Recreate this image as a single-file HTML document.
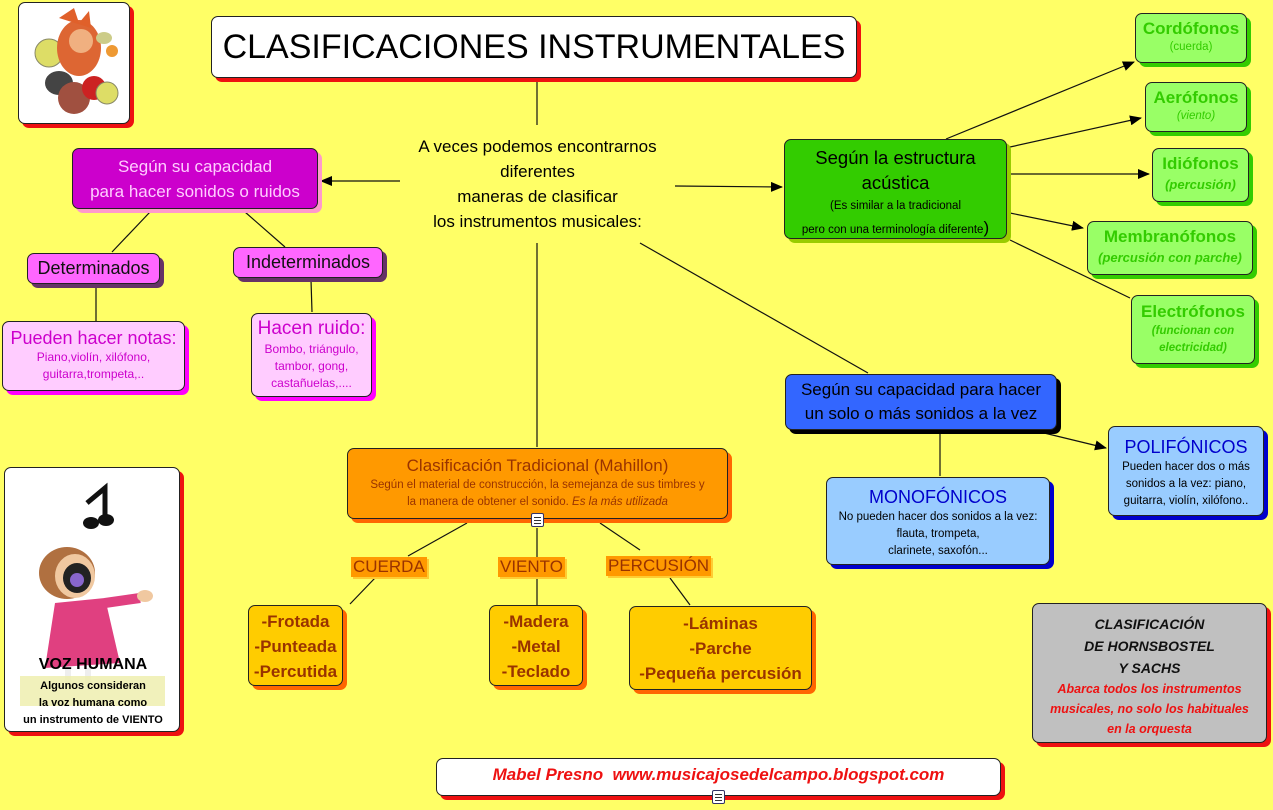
<!DOCTYPE html>
<html><head><meta charset="utf-8">
<style>
html,body{margin:0;padding:0}
body{width:1273px;height:810px;background:#ffff66;position:relative;overflow:hidden;font-family:"Liberation Sans","DejaVu Sans",sans-serif}
.b{position:absolute;box-sizing:border-box;border:1px solid #222;border-radius:7px;text-align:center}
.t{position:absolute;text-align:center;white-space:nowrap}
svg.l{position:absolute;left:0;top:0}
.hl{position:absolute;background:#ff9900;color:#993300;font-size:17px;line-height:20px;padding:0 2px;box-shadow:2px 2px 0 #ffcc33}
.ic{position:absolute;width:13px;height:14px;background:#fff;border:1px solid #336;box-sizing:border-box;border-radius:2px}
.ic:before{content:"";position:absolute;left:2px;top:3px;width:7px;height:1px;background:#333;box-shadow:0 3px 0 #333,0 6px 0 #333}
</style></head><body>

<svg class="l" width="1273" height="810">
<defs><marker id="a" markerWidth="12" markerHeight="10" refX="11" refY="5" orient="auto" markerUnits="userSpaceOnUse"><path d="M0,0 L12,5 L0,10 z" fill="#000"/></marker></defs>
<g stroke="#111" stroke-width="1.2" fill="none">
<line x1="537" y1="80" x2="537" y2="125"/>
<line x1="400" y1="181" x2="321" y2="181" marker-end="url(#a)"/>
<line x1="150" y1="212" x2="112" y2="252"/>
<line x1="245" y1="212" x2="285" y2="247"/>
<line x1="96" y1="286" x2="96" y2="321"/>
<line x1="311" y1="280" x2="312" y2="312"/>
<line x1="675" y1="186" x2="782" y2="187" marker-end="url(#a)"/>
<line x1="946" y1="139" x2="1134" y2="62" marker-end="url(#a)"/>
<line x1="1010" y1="147" x2="1141" y2="118" marker-end="url(#a)"/>
<line x1="1010" y1="174" x2="1149" y2="174" marker-end="url(#a)"/>
<line x1="1010" y1="213" x2="1083" y2="228" marker-end="url(#a)"/>
<line x1="1010" y1="240" x2="1130" y2="298"/>
<line x1="640" y1="243" x2="868" y2="373"/>
<line x1="940" y1="432" x2="940" y2="476"/>
<line x1="1040" y1="432" x2="1106" y2="448" marker-end="url(#a)"/>
<line x1="537" y1="243" x2="537" y2="447"/>
<line x1="467" y1="523" x2="408" y2="556"/>
<line x1="537" y1="528" x2="537" y2="557"/>
<line x1="600" y1="523" x2="640" y2="550"/>
<line x1="375" y1="578" x2="350" y2="604"/>
<line x1="537" y1="578" x2="537" y2="605"/>
<line x1="670" y1="578" x2="690" y2="605"/>
</g>
</svg>

<!-- top-left image -->
<div class="b" style="left:18px;top:2px;width:112px;height:122px;background:#fff;box-shadow:4px 4px 0 #ee1111;overflow:hidden">
<svg width="110" height="120" style="position:absolute;left:0;top:0">
<ellipse cx="30" cy="50" rx="14" ry="14" fill="#dddd66" stroke="#886" />
<ellipse cx="60" cy="45" rx="22" ry="28" fill="#dd6633"/>
<path d="M40 15 L55 5 L60 20 L70 8 L72 25 Z" fill="#e0602a"/>
<ellipse cx="62" cy="38" rx="12" ry="12" fill="#f0b080"/>
<ellipse cx="40" cy="80" rx="14" ry="12" fill="#444"/>
<ellipse cx="55" cy="95" rx="16" ry="16" fill="#a05040"/>
<ellipse cx="75" cy="85" rx="12" ry="12" fill="#cc2222"/>
<ellipse cx="88" cy="90" rx="11" ry="11" fill="#dddd66" stroke="#886"/>
<ellipse cx="85" cy="35" rx="8" ry="6" fill="#cccc88"/>
<ellipse cx="93" cy="48" rx="6" ry="6" fill="#ee9933"/>
</svg>
</div>

<!-- title -->
<div class="b" style="left:211px;top:16px;width:646px;height:62px;background:#fff;box-shadow:4px 4px 0 #ee1111;font-size:34px;line-height:60px;color:#000">CLASIFICACIONES INSTRUMENTALES</div>

<!-- center text -->
<div class="t" style="left:380px;top:134px;width:315px;font-size:17px;line-height:25px;color:#000">A veces podemos encontrarnos<br>diferentes<br>maneras de clasificar<br>los instrumentos musicales:</div>

<!-- magenta -->
<div class="b" style="left:72px;top:148px;width:246px;height:61px;background:#cc00cc;box-shadow:4px 4px 0 #ff99cc;color:#ffccff;font-size:17px;line-height:25px;padding-top:5px">Según su capacidad<br>para hacer sonidos o ruidos</div>
<div class="b" style="left:27px;top:253px;width:133px;height:31px;background:#ff66ff;box-shadow:4px 4px 0 #663366;font-size:18px;line-height:29px;color:#111">Determinados</div>
<div class="b" style="left:233px;top:247px;width:150px;height:31px;background:#ff66ff;box-shadow:4px 4px 0 #663366;font-size:18px;line-height:29px;color:#111">Indeterminados</div>
<div class="b" style="left:2px;top:321px;width:183px;height:70px;background:#ffccff;box-shadow:4px 4px 0 #ff00ff;color:#cc00cc;padding-top:5px"><div style="font-size:18px;line-height:22px">Pueden hacer notas:</div><div style="font-size:12px;line-height:17px">Piano,violín, xilófono,<br>guitarra,trompeta,..</div></div>
<div class="b" style="left:251px;top:313px;width:121px;height:84px;background:#ffccff;box-shadow:4px 4px 0 #ff00ff;color:#cc00cc;padding-top:3px"><div style="font-size:19px;line-height:24px">Hacen ruido:</div><div style="font-size:12px;line-height:17px">Bombo, triángulo,<br>tambor, gong,<br>castañuelas,....</div></div>

<!-- green -->
<div class="b" style="left:784px;top:139px;width:223px;height:100px;background:#33cc00;box-shadow:4px 4px 0 #99cc00;color:#000;padding-top:5px"><div style="font-size:18.5px;line-height:25px">Según la estructura<br>acústica</div><div style="font-size:11.5px;line-height:22px">(Es similar a la tradicional<br>pero con una terminología diferente<span style="font-size:17px">)</span></div></div>
<div class="b" style="left:1135px;top:13px;width:112px;height:50px;background:#99ff66;box-shadow:4px 4px 0 #33cc00;color:#33cc00;padding-top:5px"><div style="font-size:17px;font-weight:bold;line-height:20px">Cordófonos</div><div style="font-size:11.5px;line-height:16px">(cuerda)</div></div>
<div class="b" style="left:1145px;top:82px;width:102px;height:50px;background:#99ff66;box-shadow:4px 4px 0 #33cc00;color:#33cc00;padding-top:5px"><div style="font-size:17px;font-weight:bold;line-height:20px">Aerófonos</div><div style="font-size:11.5px;line-height:16px;font-style:italic">(viento)</div></div>
<div class="b" style="left:1152px;top:148px;width:97px;height:54px;background:#99ff66;box-shadow:4px 4px 0 #33cc00;color:#33cc00;padding-top:4px"><div style="font-size:17px;font-weight:bold;line-height:22px">Idiófonos</div><div style="font-size:13px;line-height:20px;font-style:italic;font-weight:bold">(percusión)</div></div>
<div class="b" style="left:1087px;top:221px;width:166px;height:54px;background:#99ff66;box-shadow:4px 4px 0 #33cc00;color:#33cc00;padding-top:4px"><div style="font-size:17px;font-weight:bold;line-height:22px">Membranófonos</div><div style="font-size:13px;line-height:20px;font-style:italic;font-weight:bold">(percusión con parche)</div></div>
<div class="b" style="left:1131px;top:295px;width:124px;height:69px;background:#99ff66;box-shadow:4px 4px 0 #33cc00;color:#33cc00;padding-top:5px"><div style="font-size:17px;font-weight:bold;line-height:22px">Electrófonos</div><div style="font-size:11.5px;line-height:17px;font-style:italic;font-weight:bold">(funcionan con<br>electricidad)</div></div>

<!-- blue -->
<div class="b" style="left:785px;top:374px;width:272px;height:56px;background:#3366ff;box-shadow:4px 4px 0 #000;color:#000;font-size:17px;line-height:24px;padding-top:3px">Según su capacidad para hacer<br>un solo o más sonidos a la vez</div>
<div class="b" style="left:826px;top:477px;width:224px;height:88px;background:#99ccff;box-shadow:4px 4px 0 #0000cc;padding-top:7px"><div style="font-size:18px;line-height:24px;color:#0000cc">MONOFÓNICOS</div><div style="font-size:11.5px;line-height:17px;color:#000">No pueden hacer dos sonidos a la vez:<br>flauta, trompeta,<br>clarinete, saxofón...</div></div>
<div class="b" style="left:1108px;top:426px;width:156px;height:90px;background:#99ccff;box-shadow:4px 4px 0 #0000cc;padding-top:8px"><div style="font-size:18px;line-height:24px;color:#0000cc">POLIFÓNICOS</div><div style="font-size:11.5px;line-height:17px;color:#000">Pueden hacer dos o más<br>sonidos a la vez: piano,<br>guitarra, violín, xilófono..</div></div>

<!-- orange -->
<div class="b" style="left:347px;top:448px;width:381px;height:71px;background:#ff9900;box-shadow:4px 4px 0 #ff6600;color:#993300;padding-top:6px"><div style="font-size:17px;line-height:22px">Clasificación Tradicional (Mahillon)</div><div style="font-size:11.5px;line-height:17px">Según el material de construcción, la semejanza de sus timbres y<br>la manera de obtener el sonido. <i>Es la más utilizada</i></div></div>
<div class="ic" style="left:531px;top:513px"></div>
<div class="hl" style="left:351px;top:557px">CUERDA</div>
<div class="hl" style="left:498px;top:557px">VIENTO</div>
<div class="hl" style="left:606px;top:556px">PERCUSIÓN</div>

<div class="b" style="left:248px;top:605px;width:95px;height:81px;background:#ffcc00;box-shadow:4px 4px 0 #ff6600;color:#993300;font-weight:bold;font-size:17px;line-height:25px;padding-top:3px">-Frotada<br>-Punteada<br>-Percutida</div>
<div class="b" style="left:489px;top:605px;width:94px;height:81px;background:#ffcc00;box-shadow:4px 4px 0 #ff6600;color:#993300;font-weight:bold;font-size:17px;line-height:25px;padding-top:3px">-Madera<br>-Metal<br>-Teclado</div>
<div class="b" style="left:629px;top:606px;width:183px;height:84px;background:#ffcc00;box-shadow:4px 4px 0 #ff6600;color:#993300;font-weight:bold;font-size:17px;line-height:25px;padding-top:4px">-Láminas<br>-Parche<br>-Pequeña percusión</div>

<!-- voz humana -->
<div class="b" style="left:4px;top:467px;width:176px;height:265px;background:#fff;box-shadow:4px 4px 0 #ee1111;overflow:hidden">
<svg width="176" height="265" style="position:absolute;left:0;top:0">
<path d="M82 35 L100 20 L100 55" stroke="#111" stroke-width="5" fill="none"/>
<ellipse cx="86" cy="55" rx="8" ry="6" fill="#111"/><ellipse cx="101" cy="52" rx="8" ry="6" fill="#111"/>
<ellipse cx="62" cy="105" rx="28" ry="26" fill="#b07040"/>
<ellipse cx="70" cy="108" rx="20" ry="22" fill="#f0c8a0"/>
<ellipse cx="72" cy="110" rx="14" ry="15" fill="#222"/>
<ellipse cx="72" cy="112" rx="7" ry="7" fill="#8866cc"/>
<path d="M50 135 L100 130 L115 195 L40 200 Z" fill="#e04080"/>
<path d="M100 135 L135 130" stroke="#e04080" stroke-width="10"/>
<ellipse cx="140" cy="128" rx="8" ry="6" fill="#f0c8a0"/>
<rect x="60" y="200" width="6" height="22" fill="#eee"/><rect x="80" y="200" width="6" height="22" fill="#eee"/>
<rect x="15" y="208" width="145" height="30" fill="#eeeeaa" opacity="0.8"/>
</svg>
<div class="t" style="left:0;top:187px;width:176px;font-size:16px;font-weight:bold;line-height:20px;color:#000">VOZ HUMANA</div>
<div class="t" style="left:0;top:210px;width:176px;font-size:11px;font-weight:bold;line-height:17px;color:#000">Algunos consideran<br>la voz humana como<br>un instrumento de VIENTO</div>
</div>

<!-- hornsbostel -->
<div class="b" style="left:1032px;top:603px;width:235px;height:140px;background:#c0c0c0;box-shadow:4px 4px 0 #ee1111;padding-top:9px;font-style:italic;font-weight:bold"><div style="font-size:14px;line-height:22px;color:#111">CLASIFICACIÓN<br>DE HORNSBOSTEL<br>Y SACHS</div><div style="font-size:12.5px;line-height:20px;color:#ee1111">Abarca todos los instrumentos<br>musicales, no solo los habituales<br>en la orquesta</div></div>

<!-- footer -->
<div class="b" style="left:436px;top:758px;width:565px;height:38px;background:#fff;box-shadow:4px 4px 0 #ee1111;color:#ee1111;font-style:italic;font-weight:bold;font-size:17px;line-height:31px">Mabel Presno&nbsp;&nbsp;www.musicajosedelcampo.blogspot.com</div>
<div class="ic" style="left:712px;top:790px"></div>

</body></html>
